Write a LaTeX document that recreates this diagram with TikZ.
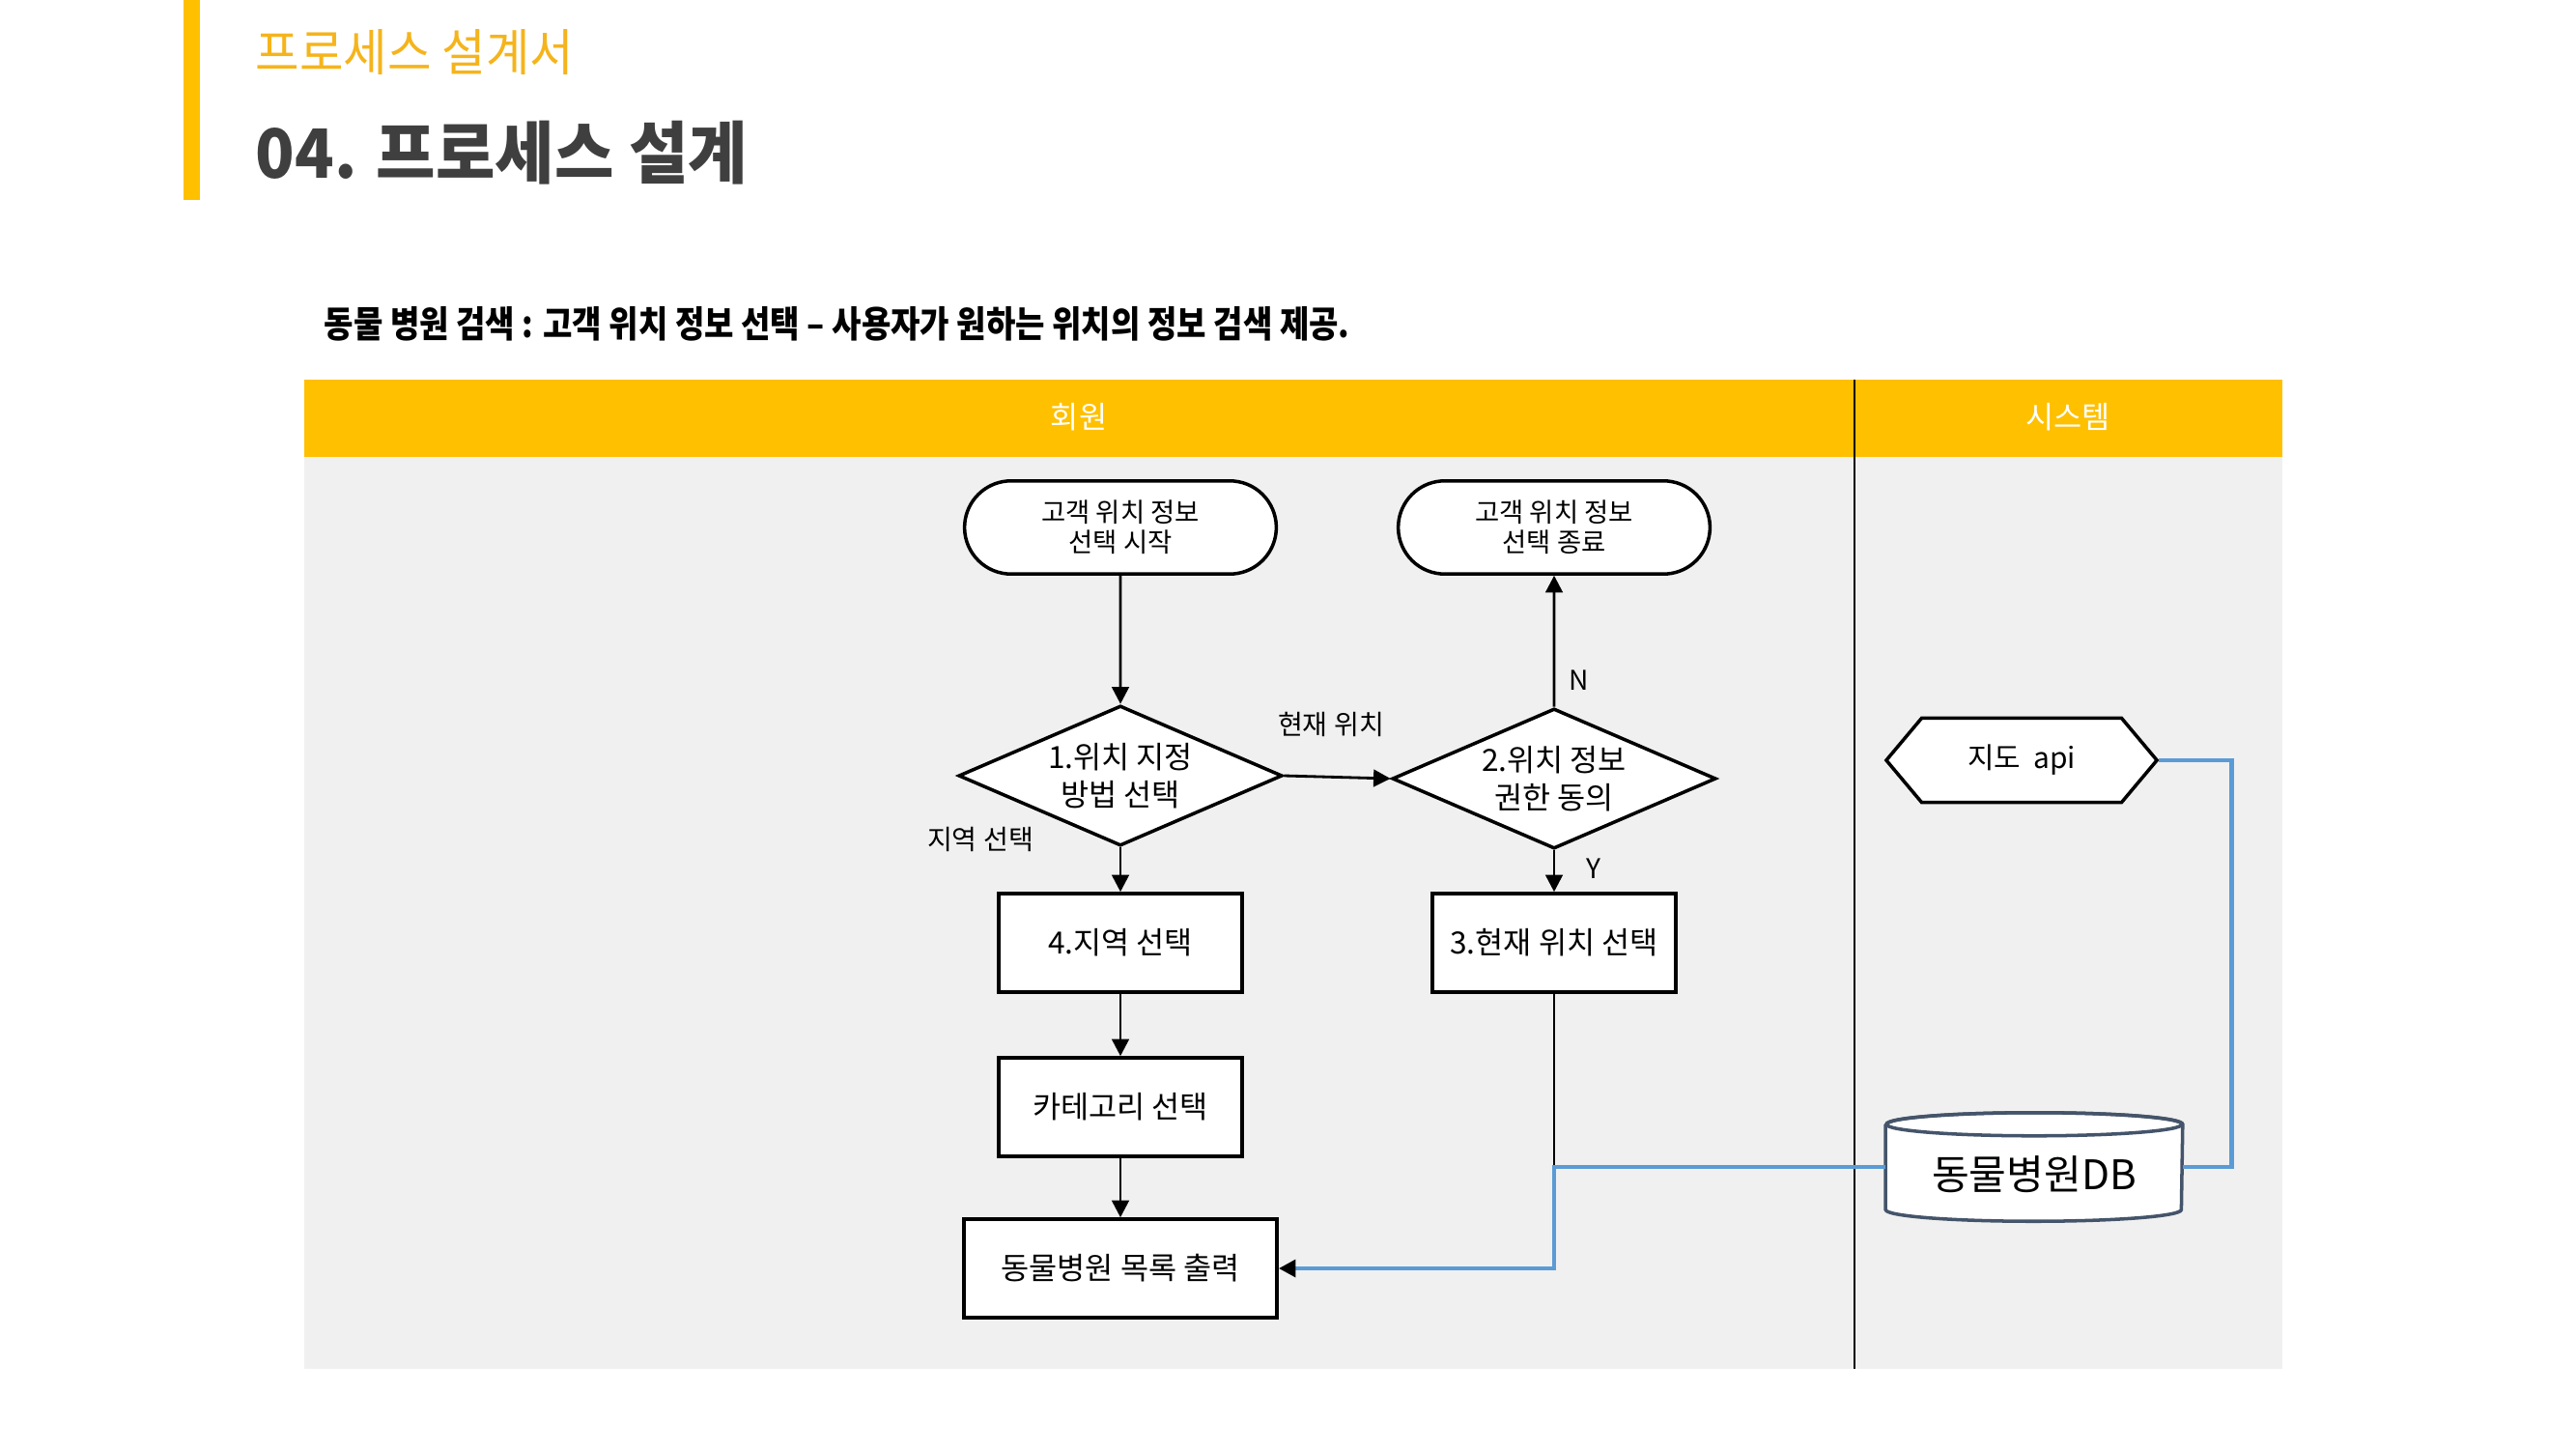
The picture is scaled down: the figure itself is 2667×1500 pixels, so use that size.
\documentclass[tikz,border=0pt]{standalone}
\usepackage{fontspec}
\setmainfont{Noto Sans CJK KR}
\newfontfamily\headfont[FakeStretch=0.95]{Noto Sans CJK KR}
\newfontfamily\subfont[FakeStretch=0.87]{Noto Sans CJK KR}
\usetikzlibrary{shapes.misc,shapes.geometric,shapes.symbols,arrows.meta,calc}

\definecolor{laneyellow}{HTML}{FFC000}
\definecolor{titleorange}{HTML}{F5B41C}
\definecolor{titlegray}{HTML}{3F3F3F}
\definecolor{lanegray}{HTML}{F0F0F0}
\definecolor{linkblue}{HTML}{5B9BD5}
\definecolor{dbslate}{HTML}{44546A}

\tikzset{
  terminal/.style={rounded rectangle, rounded rectangle arc length=170, draw, line width=1pt,
    fill=white, minimum width=3.46cm, minimum height=0.96cm, align=center,
    font=\fontsize{7.8}{8.8}\selectfont},
  decision/.style={diamond, draw, line width=1pt, fill=white, aspect=2.3, inner sep=0pt,
    minimum width=3.35cm, minimum height=1.45cm, align=center,
    font=\fontsize{9}{11}\selectfont},
  process/.style={rectangle, draw, line width=1pt, fill=white, minimum width=2.52cm,
    minimum height=1.02cm, font=\fontsize{9}{11}\selectfont},
  tag/.style={font=\fontsize{8}{9}\selectfont, inner sep=1pt},
  flow/.style={line width=0.8pt, -{Triangle[length=5pt,width=5pt]}},
  link/.style={linkblue, line width=1.4pt},
}

\begin{document}
\begin{tikzpicture}[x=0.01cm, y=-0.01cm]
  \useasboundingbox (0,0) rectangle (2667,1500);

  % page heading
  \fill[laneyellow] (190,0) rectangle (207,207);
  \node[anchor=west, inner sep=0pt, text=titleorange, font=\headfont\fontsize{14.8}{16}\selectfont] (doc) at (264,54) {프로세스 설계서};
  \node[anchor=west, inner sep=0pt, text=titlegray, font=\headfont\bfseries\fontsize{20}{22}\selectfont] (title) at (264,158) {04. 프로세스 설계};
  \node[anchor=west, inner sep=0pt, font=\subfont\bfseries\fontsize{10.8}{12}\selectfont] (sub) at (335,335) {동물 병원 검색 : 고객 위치 정보 선택 – 사용자가 원하는 위치의 정보 검색 제공.};

  % swimlanes
  \fill[lanegray] (315,473) rectangle (2363,1417);
  \fill[laneyellow] (315,393) rectangle (2363,473);
  \draw[line width=0.8pt] (1920,393) -- (1920,1417);
  \node[text=white, font=\fontsize{9}{10}\selectfont] (member) at (1117,432) {회원};
  \node[text=white, font=\fontsize{9}{10}\selectfont] (system) at (2141,432) {시스템};

  % member lane
  \node[terminal] (start) at (1160,546) {고객 위치 정보\\선택 시작};
  \node[terminal] (end) at (1609,546) {고객 위치 정보\\선택 종료};
  \node[decision] (how) at (1160,803) {1.위치 지정\\방법 선택};
  \node[decision] (agree) at (1609,806) {2.위치 정보\\권한 동의};
  \node[process] (area) at (1160,976) {4.지역 선택};
  \node[process] (here) at (1609,976) {3.현재 위치 선택};
  \node[process] (cat) at (1160,1146) {카테고리 선택};
  \node[process, minimum width=3.24cm] (list) at (1160,1313) {동물병원 목록 출력};
  \node[tag] (lblhere) at (1378,750) {현재 위치};
  \node[tag] (lblarea) at (1015,869) {지역 선택};

  \draw[flow] (start) -- (how);
  \draw[flow] (how.east) -- (agree.west);
  \draw[flow] (agree) -- node[tag, right=3pt, pos=0.2] (lbln) {N} (end);
  \draw[flow] (agree) -- node[tag, right=8pt, pos=0.45] (lbly) {Y} (here);
  \draw[flow] (how) -- (area);
  \draw[flow] (area) -- (cat);
  \draw[flow] (cat) -- (list);

  % system lane
  \node[signal, signal to=west and east, signal pointer angle=100, draw, line width=1pt,
    fill=white, minimum width=2.8cm, minimum height=0.87cm,
    font=\fontsize{8.5}{10}\selectfont] (api) at (2093,787) {지도~~api};
  \node[minimum width=3.06cm, minimum height=1.11cm, inner sep=0pt] (db) at (2106,1208) {};
  \draw[dbslate, line width=1pt, fill=white]
    ($(db.north west)+(0,12)$) -- ($(db.south west)+(0,-12)$)
    arc[start angle=180, end angle=360, x radius=1.53cm, y radius=0.12cm]
    -- ($(db.north east)+(0,12)$)
    arc[start angle=0, end angle=180, x radius=1.53cm, y radius=0.12cm];
  \draw[dbslate, line width=1pt] ($(db.north)+(0,12)$) ellipse[x radius=1.53cm, y radius=0.12cm];
  \node[font=\fontsize{12}{13}\selectfont] (dbtext) at ($(db.center)+(0,8)$) {동물병원DB};

  \draw[link] (api.east) -- ++(75,0) |- (db.east);
  \draw[line width=0.5pt] (here.south) -- (here.south |- db.west);
  \draw[link, -{Triangle[length=5pt,width=5pt,color=black]}] (db.west) -- (db.west -| here.south) |- (list.east);
\end{tikzpicture}
\end{document}
